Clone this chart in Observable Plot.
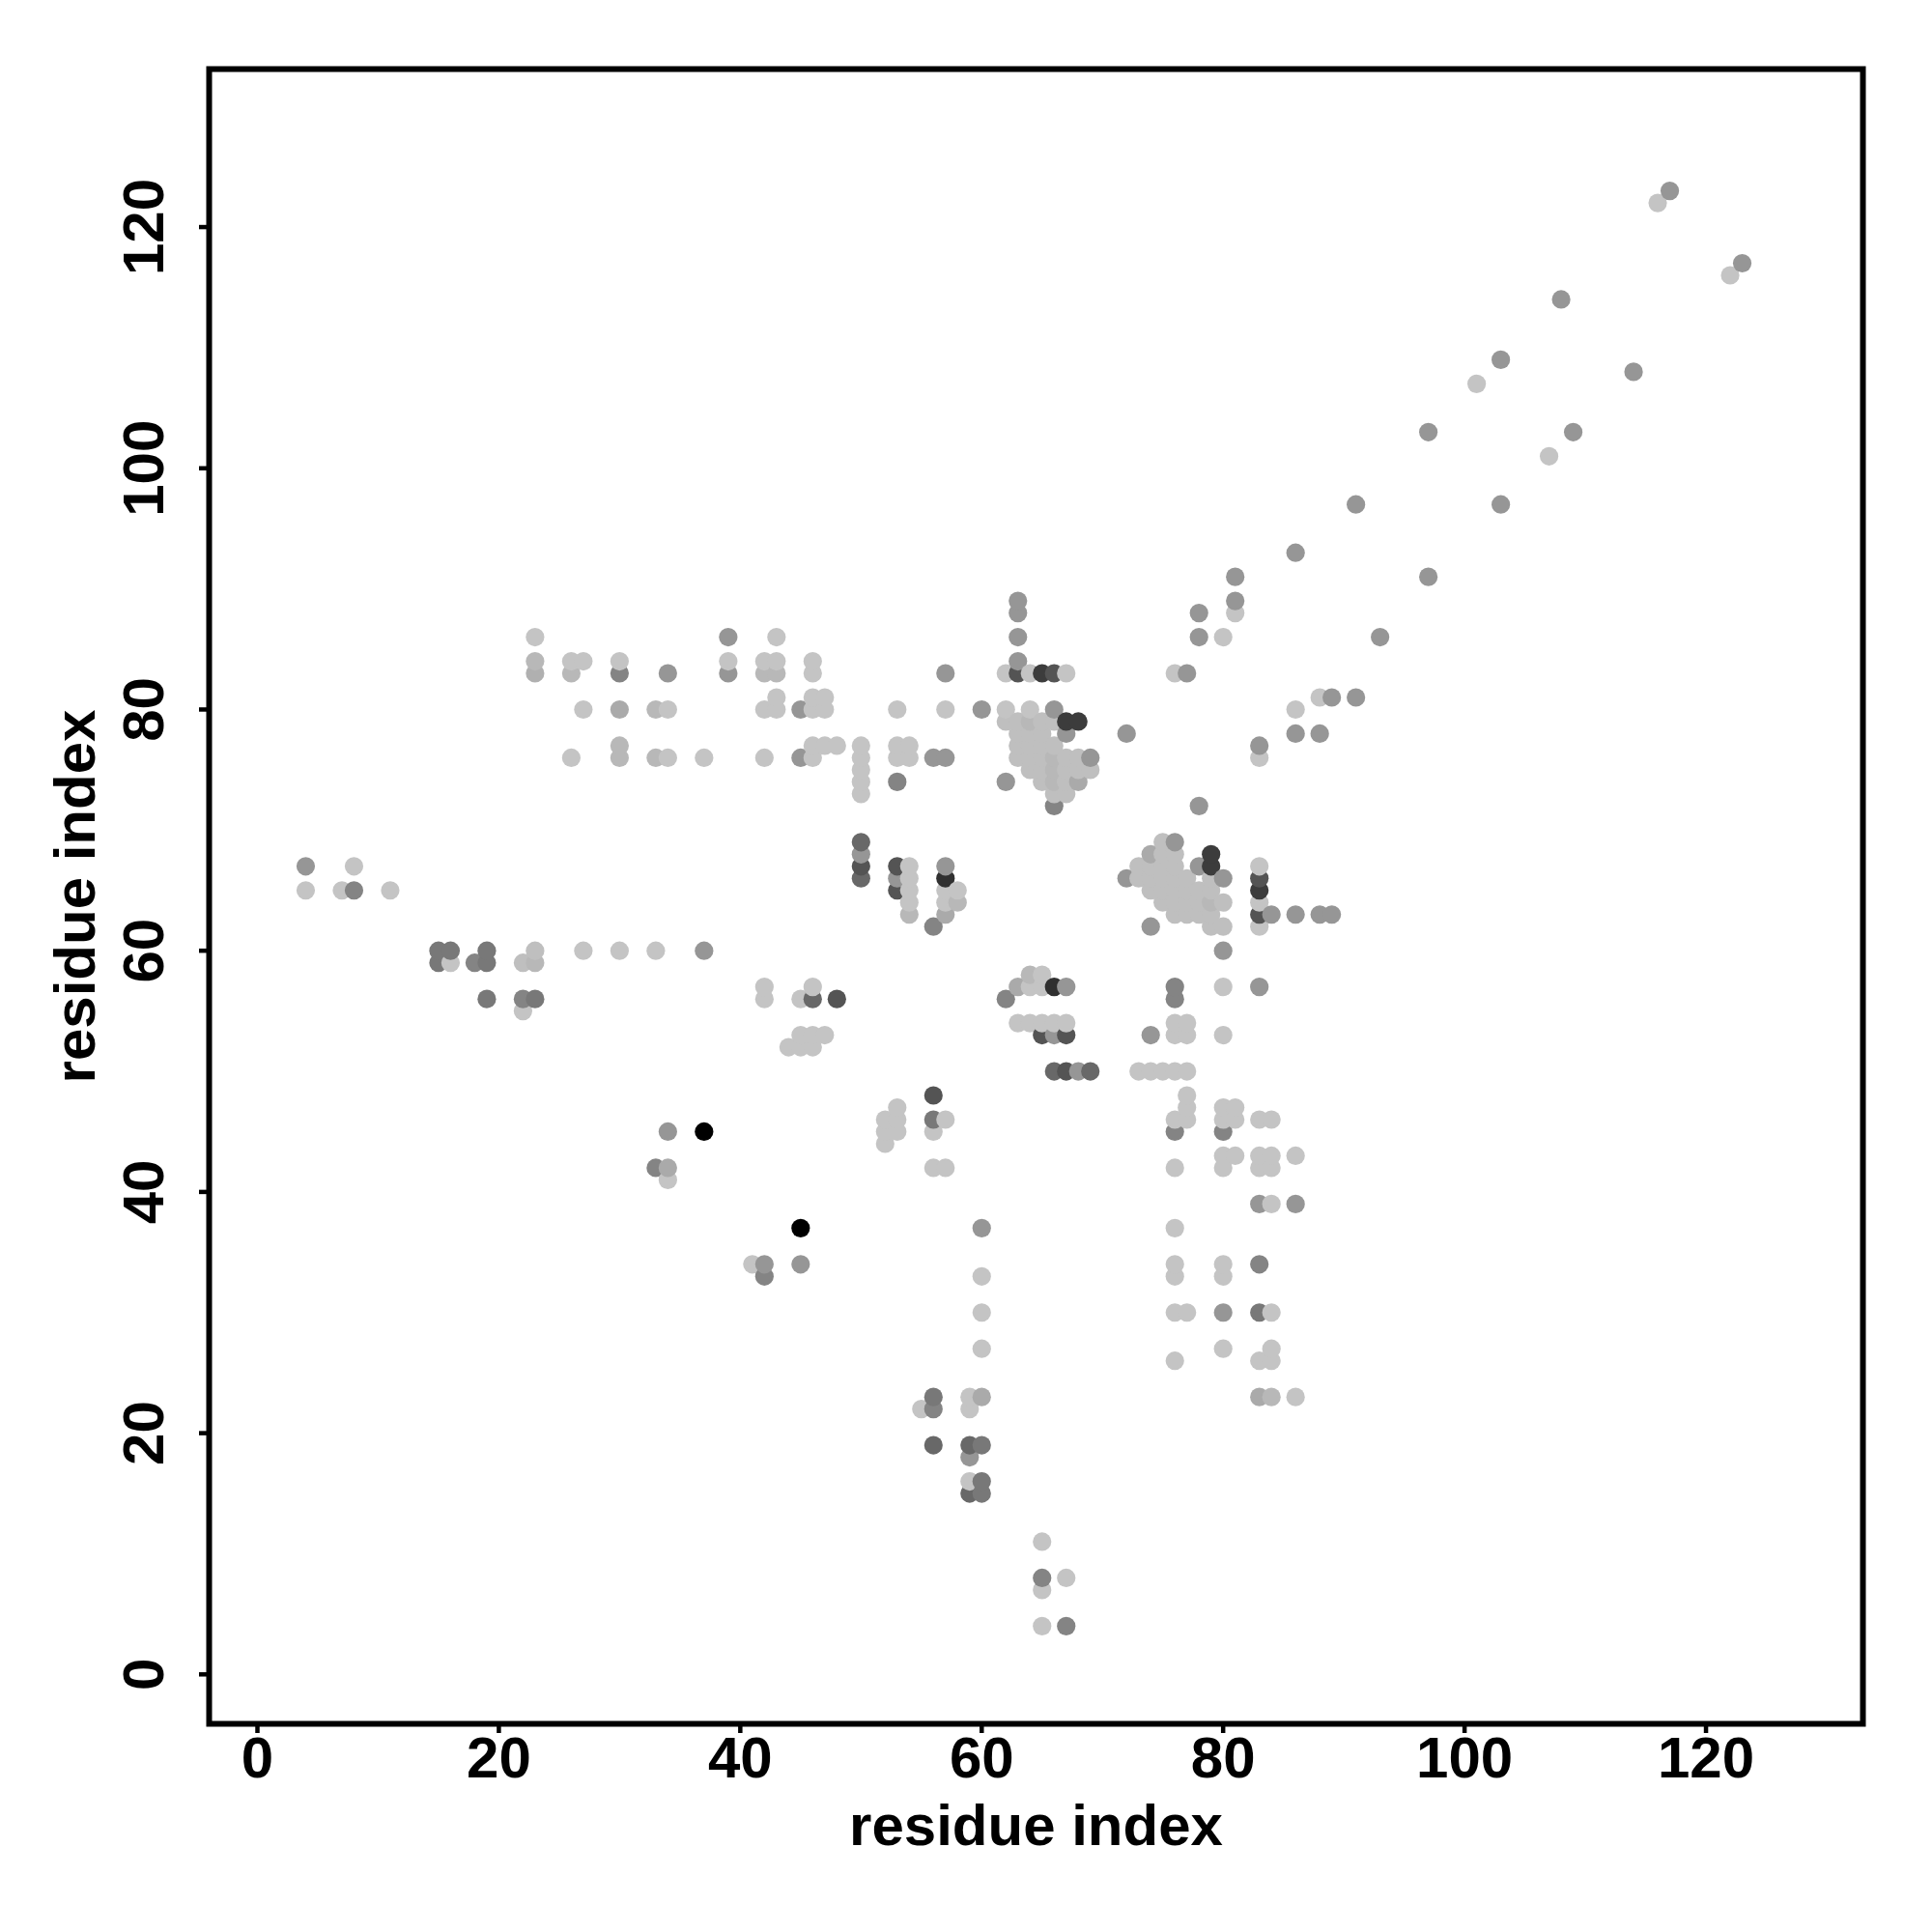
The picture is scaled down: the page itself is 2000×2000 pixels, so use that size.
<!DOCTYPE html>
<html>
<head>
<meta charset="utf-8">
<style>html,body{margin:0;padding:0;background:#fff}svg{display:block}</style>
<script src="https://cdn.jsdelivr.net/npm/d3@7"></script>
<script src="https://cdn.jsdelivr.net/npm/@observablehq/plot@0.6"></script>
</head>
<body>
<div id="chart"></div>
<script>
const tickValues = [0, 20, 40, 60, 80, 100, 120];
const axisTitle = "residue index";

const gray196 = [[116,122],[122,116],[101,107],[107,101],[81,88],[80,86],[76,83],[86,80],[88,81],[83,76],
[23,86],[26,84],[27,84],[30,84],[42,84],[43,84],[39,84],[46,84],[46,83],[27,80],[34,80],[26,76],[34,76],[37,76],[42,76],[46,76],[46,77],[47,77],[48,77],[46,80],[47,80],[46,81],[47,81],[43,81],[42,80],[43,80],[43,86],[50,77],[50,76],[50,75],[50,74],[50,73],[53,80],[57,80],[53,77],[54,77],[53,76],[54,76],
[62,83],[64,83],[67,83],[62,80],[64,80],
[83,67],[83,64],[83,62],
[54,67],[54,66],[54,65],[54,64],[57,65],[57,64],[58,65],
[27,60],[30,60],[33,60],[16,59],[22,55],[42,57],[42,56],[45,56],[46,57],[45,53],[46,53],[47,53],[44,52],[45,52],[46,52],[65,57],[64,57],[65,58],[63,54],[64,54],[65,54],[66,54],[67,54],[76,54],[77,54],[76,53],[77,53],[80,53],[80,57],[73,50],[74,50],[75,50],[76,50],[77,50],[77,48],[77,47],[76,46],[77,46],[80,47],[81,47],[80,46],[81,46],[83,46],[84,46],[80,43],[81,43],[83,43],[84,43],[86,43],[76,42],[80,42],[83,42],[84,42],[84,39],[53,47],[52,46],[53,46],[52,45],[53,45],[52,44],[57,46],[56,45],[56,42],[57,42],[34,41],[41,34],[60,33],[60,30],[60,27],[55,22],[59,23],[59,22],[59,16],[65,11],[67,8],[65,7],[65,4],[76,37],[76,34],[76,33],[76,30],[77,30],[76,26],[80,34],[80,33],[80,27],[84,30],[84,27],[83,26],[84,26],[86,23],[4,65],[7,65],[8,67],[11,65]];
const gray191 = [[62,79],[63,79],[65,79],[66,79],[63,78],[64,78],[65,78],[63,77],[64,77],[65,77],[66,77],[63,76],[64,76],[65,76],[67,76],[68,76],[64,75],[65,75],[67,75],[68,75],[69,75],[65,74],[67,74],[66,73],[67,73],
[75,69],[75,68],[76,68],[73,67],[74,67],[75,67],[76,67],[73,66],[74,66],[75,66],[76,66],[77,66],[79,66],[74,65],[75,65],[76,65],[77,65],[78,65],[79,65],[75,64],[76,64],[77,64],[78,64],[80,64],[76,63],[77,63],[78,63],[79,63],[79,62],[80,62],[22,59],[23,60]];
const gray184 = [[23,84],[26,83],[30,77],[30,76],[33,80],[33,76],[42,83],[43,83],[23,59],[64,79],[66,76],[66,75],[66,74],[79,64],[54,63],[58,64],[64,58],[84,23]];
const gray176 = [[23,83]];
const gray170 = [[57,63],[74,68],[68,74],[63,57],[34,42],[60,23],[83,23],[30,80]];
const gray150 = [[117,123],[123,117],[108,114],[114,108],[103,109],[109,103],[97,103],[91,97],[103,97],[86,93],[97,91],[81,91],[81,89],[78,88],[78,86],[93,86],[77,83],[89,81],[91,81],[86,78],[88,78],[83,77],[72,78],[34,83],[39,86],[39,83],[45,76],[45,80],[57,83],[60,80],[56,76],[57,76],[63,89],[63,88],[63,86],[63,84],[66,80],[67,78],[69,76],[62,74],[78,72],[76,69],[78,67],[72,66],[80,66],[74,62],[84,63],[86,63],[88,63],[89,63],[80,60],[37,60],[4,67],[34,45],[42,34],[45,34],[60,37],[83,39],[86,39],[80,30],[83,57],[74,53],[68,50],[66,53],[67,57],[50,68],[53,66],[57,67],[59,18]];
const gray132 = [[53,74],[30,83],[66,72],[56,62],[62,56],[76,57],[76,56],[76,45],[80,45],[33,42],[42,33],[65,8],[56,22],[8,65],[18,59],[67,4],[83,34],[22,56]];
const gray120 = [[15,60],[16,60],[19,60],[15,59],[19,59],[19,56],[23,56],[56,46],[56,23],[60,19],[60,16],[60,15],[83,30]];
const gray104 = [[50,69],[50,66],[66,50],[69,50],[59,19],[59,15],[56,19],[46,56]];
const gray84 = [[53,67],[53,65],[50,67],[63,83],[66,83],[83,66],[83,63],[65,53],[67,53],[67,50],[48,56],[56,48]];
const gray60 = [[65,83],[67,79],[68,79],[79,68],[79,67],[83,65]];
const gray48 = [[57,66],[66,57]];
const gray0 = [[37,45],[45,37]];

const groups = [[196,gray196],[191,gray191],[184,gray184],[176,gray176],[170,gray170],[150,gray150],[132,gray132],[120,gray120],[104,gray104],[84,gray84],[60,gray60],[48,gray48],[0,gray0]];
const contacts = groups.flatMap(([g, pts]) => pts.map(([i, j]) => ({i, j, fill: `rgb(${g},${g},${g})`})));
contacts.sort((a, b) => a.i - b.i || a.j - b.j);

const font = {fontSize: 60, fontWeight: 700};
const chart = Plot.plot({
  width: 2000,
  height: 2000,
  marginLeft: 216,
  marginRight: 72,
  marginTop: 71,
  marginBottom: 216,
  style: {fontFamily: "'Liberation Sans', Arial, sans-serif", fontWeight: 700, fontSize: "60px", color: "#000", background: "#fff"},
  x: {domain: [-4, 133]},
  y: {domain: [-4.1, 133.1]},
  color: {type: "identity"},
  marks: [
    Plot.dot(contacts, {x: "i", y: "j", r: 9.6, fill: "fill", stroke: "none"}),
    Plot.frame({stroke: "#000", strokeWidth: 6}),
    Plot.axisX({ticks: tickValues, tickSize: 10, tickPadding: 3, strokeWidth: 4.5, stroke: "#000", fill: "#000", ...font,
      label: axisTitle, labelAnchor: "center", labelArrow: "none", labelOffset: 125}),
    Plot.axisY({ticks: tickValues, tickSize: 10, tickPadding: 38, tickRotate: -90, strokeWidth: 4.5, stroke: "#000", fill: "#000", ...font,
      label: axisTitle, labelAnchor: "center", labelArrow: "none", labelOffset: 161})
  ]
});
document.getElementById("chart").appendChild(chart);
</script>
</body>
</html>
